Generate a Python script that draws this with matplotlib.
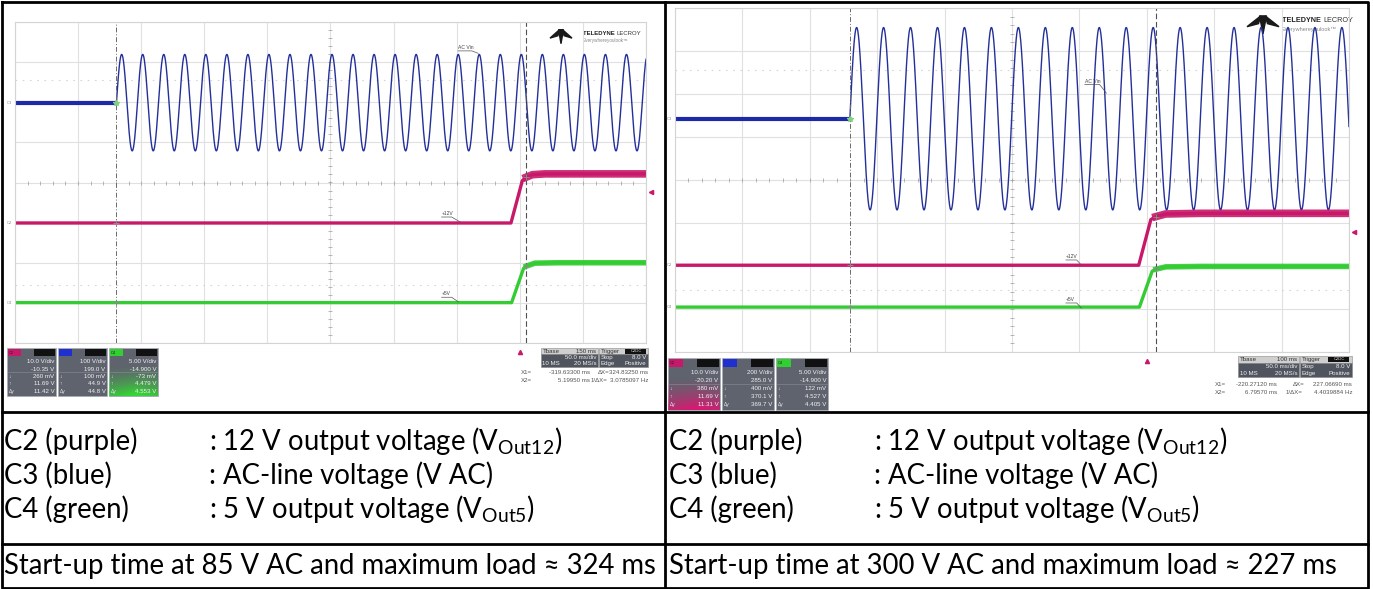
import numpy as np
import matplotlib.pyplot as plt
from matplotlib.patches import Rectangle, Polygon

plt.rcParams['font.family'] = ['Lato', 'DejaVu Sans']
NARROW = ['Liberation Sans Narrow', 'Liberation Sans', 'DejaVu Sans']

W, H = 1373, 589

# ---------------- table text ----------------
names = ['C2 (purple)', 'C3 (blue)', 'C4 (green)']
descs = [': 12 V output voltage (V$_\\mathregular{Out12}$)',
         ': AC-line voltage (V AC)',
         ': 5 V output voltage (V$_\\mathregular{Out5}$)']
startup = ['Start-up time at 85 V AC and maximum load \u2248 324 ms',
           'Start-up time at 300 V AC and maximum load \u2248 227 ms']

# ---------------- scope settings ----------------
ms_per_div = 50.0
tbase = [-150.0, -100.0]            # screen centre, ms
cursor_x1 = [-319.633, -220.2712]   # ms
cursor_x2 = [5.1995, 6.7957]
ac_rms = [85.0, 300.0]
ac_freq = [60.0, 50.0]
trig_level = 8.0                    # V on C2, at t = 0
c2_vdiv = [10.0, 10.0]
c2_offset = [-10.35, -20.20]
c3_vdiv = [100.0, 200.0]
c3_offset = [199.0, 285.0]
c4_vdiv = [5.0, 5.0]
c4_offset = [-14.9, -14.9]

# start-up ramps (ms, V)
left_c2_t = [-400.0, -7.0, 2.0, 5.2, 10.0, 20.0, 100.0]
left_c2_v = [0.26, 0.26, 10.8, 11.69, 12.3, 12.5, 12.5]
left_c4_t = [-400.0, -6.5, 3.0, 5.2, 12.0, 30.0, 100.0]
left_c4_v = [-0.07, -0.07, 4.2, 4.48, 4.85, 4.9, 4.9]
right_c2_t = [-350.0, -6.0, 3.0, 6.8, 14.0, 40.0, 150.0]
right_c2_v = [0.38, 0.38, 11.0, 11.69, 12.3, 12.45, 12.45]
right_c4_t = [-350.0, -5.5, 4.0, 6.8, 14.0, 40.0, 150.0]
right_c4_v = [0.12, 0.12, 4.3, 4.53, 4.8, 4.85, 4.85]

# channel info boxes
left_box_c2 = ['10.0 V/div', '-10.35 V', '260 mV', '11.69 V', '11.42 V']
left_box_c3 = ['100 V/div', '199.0 V', '100 mV', '44.9 V', '44.8 V']
left_box_c4 = ['5.00 V/div', '-14.900 V', '-73 mV', '4.479 V', '4.553 V']
right_box_c2 = ['10.0 V/div', '-20.20 V', '380 mV', '11.69 V', '11.31 V']
right_box_c3 = ['200 V/div', '285.0 V', '400 mV', '370.1 V', '369.7 V']
right_box_c4 = ['5.00 V/div', '-14.900 V', '122 mV', '4.527 V', '4.405 V']
tbase_text = ['150 ms', '100 ms']
left_cursor_text = ['-319.63300 ms', '324.83250 ms', '5.19950 ms', '3.0785097 Hz']
right_cursor_text = ['-220.27120 ms', '227.06690 ms', '6.79570 ms', '4.4039884 Hz']

PINK = '#c8186a'
BLUE = '#1b2aa8'
SINE = '#24309a'
GREEN = '#33cc33'

fig = plt.figure(figsize=(W / 100, H / 100), dpi=100)
bg = fig.add_axes([0, 0, 1, 1])
bg.axis('off')


def to_div(v, vdiv, off):
    return (np.asarray(v) + off) / vdiv


def scope(i, px, c2t, c2v, c4t, c4v, labels):
    x0, y0, x1, y1 = px
    ax = fig.add_axes([x0 / W, 1 - y1 / H, (x1 - x0) / W, (y1 - y0) / H])
    ax.patch.set_alpha(0)
    t0, t1 = tbase[i] - 5 * ms_per_div, tbase[i] + 5 * ms_per_div
    ax.set_xlim(t0, t1)
    ax.set_ylim(-4, 4)
    ax.set_xticks(np.arange(t0, t1 + 1, ms_per_div))
    ax.set_yticks(np.arange(-4, 5))
    ax.grid(True, color='#e0e0e0', lw=0.8)
    ax.tick_params(length=0, labelbottom=False, labelleft=False)
    for s in ax.spines.values():
        s.set_color('#d4d4d4')
        s.set_linewidth(0.8)
    # centre graticule ticks
    tt = np.arange(t0, t1, ms_per_div / 5)
    ax.plot(tt, np.zeros_like(tt), '|', ms=3, mew=0.5, color='#9c9c9c')
    vv = np.arange(-4, 4, 0.2)
    ax.plot(np.full_like(vv, tbase[i]), vv, '_', ms=3, mew=0.5, color='#9c9c9c')
    for yy in (2.55, -2.55):
        ax.axhline(yy, color='#d6d6d6', lw=0.8, ls=(0, (1.5, 5)))

    # C3 : AC line
    st = cursor_x1[i]
    ax.plot([t0, st], to_div([0, 0], c3_vdiv[i], c3_offset[i]), color=BLUE,
            lw=3.0, solid_capstyle='butt')
    t = np.linspace(st, t1, 6000)
    v = ac_rms[i] * np.sqrt(2) * np.sin(2 * np.pi * ac_freq[i] * (t - st) / 1000)
    ax.plot(t, to_div(v, c3_vdiv[i], c3_offset[i]), color=SINE, lw=1.0)

    # C2 / C4 outputs
    d2 = to_div(c2v, c2_vdiv[i], c2_offset[i])
    d4 = to_div(c4v, c4_vdiv[i], c4_offset[i])
    ax.plot(c2t, d2, color=PINK, lw=2.4)
    ax.plot(c2t[3:], d2[3:], color=PINK, lw=5.5, alpha=0.9)
    ax.plot(c4t, d4, color=GREEN, lw=2.4)
    ax.plot(c4t[3:], d4[3:], color=GREEN, lw=4.0, alpha=0.9)

    # cursors
    ax.axvline(cursor_x1[i], color='#6a6a6a', lw=0.7, ls=(0, (5, 2, 1, 2)))
    ax.axvline(cursor_x2[i], color='#505050', lw=0.8, ls=(0, (5, 2.5)))
    for tc in (cursor_x1[i], cursor_x2[i]):
        for tt_, dd in ((c2t, d2), (c4t, d4)):
            ax.plot(tc, np.interp(tc, tt_, dd), '+', ms=4, mew=0.7, color='#8a8a8a')
    ax.plot(cursor_x1[i], to_div(0, c3_vdiv[i], c3_offset[i]), '*', ms=4,
            color='#7fd07f')

    # trigger markers
    span = t1 - t0
    ax.plot(0, -4.22, '^', ms=3, color=PINK, clip_on=False)
    ax.plot(t1 + 0.008 * span, to_div(trig_level, c2_vdiv[i], c2_offset[i]),
            '<', ms=3, color=PINK, clip_on=False)

    # channel tags
    for tag, dv in (('C3', to_div(0, c3_vdiv[i], c3_offset[i])),
                    ('C2', d2[0]), ('C4', d4[0])):
        ax.text(t0 - 0.004 * span, dv, tag, ha='right', va='center', fontsize=3,
                color='#8c8c8c', family=NARROW, clip_on=False)

    # trace labels with leaders
    for txt, tx, ty, lx, ly in labels:
        ax.text(tx, ty, txt, fontsize=3.6, color='#444444', family=NARROW,
                ha='left', va='bottom')
        w = 0.022 * span if len(txt) > 4 else 0.016 * span
        ax.plot([tx, tx + w, lx], [ty - 0.02, ty - 0.02, ly], color='#555555', lw=0.5)
    return ax


def chan_box(x, y, w, h, tag, tagcol, vals, glow=None):
    bg.add_patch(Rectangle((x, y), w, h, facecolor='#5f636d', edgecolor='#a6abb5',
                           lw=0.5, zorder=2))
    if glow is not None:
        n = 40
        yy, xx = np.mgrid[0:1:n * 1j, 0:1:n * 1j]
        a = np.clip(yy ** 1.5 * (1.1 - 0.6 * np.abs(xx - 0.55)), 0, 1)
        img = np.zeros((n, n, 4))
        img[..., :3] = glow
        img[..., 3] = a
        bg.imshow(img, extent=[x, x + w, y + h, y + h * 0.35], origin='upper',
                  aspect='auto', zorder=2.5, interpolation='bilinear')
    hh = h * 0.17
    bg.add_patch(Rectangle((x + 1, y + 1), w * 0.27, hh - 1, facecolor=tagcol, zorder=3))
    bg.text(x + 2, y + hh / 2 + 0.5, tag, fontsize=2.8, color='#222222',
            va='center', family=NARROW, zorder=4)
    bg.add_patch(Rectangle((x + w * 0.55, y + 1), w * 0.43, hh - 1,
                           facecolor='#111111', zorder=3))
    syms = ['', '', '\u2193', '\u2191', '\u0394y']
    for k, (s, val) in enumerate(zip(syms, vals)):
        yy = y + hh + (h - hh) * (0.14 + k * 0.185)
        bg.text(x + w - 1.5, yy, val, fontsize=4.4, color='#f2f2f2', ha='right',
                va='center', family=NARROW, zorder=4)
        if s:
            bg.text(x + 1.5, yy, s, fontsize=3.6, color='#e8e8e8', ha='left',
                    va='center', family=NARROW, zorder=4)
    bg.plot([x + 1, x + w - 1], [y + hh + (h - hh) * 0.4] * 2, color='#8a8e98',
            lw=0.4, zorder=3)


def time_box(x, y, w1, w2, h, tb):
    r = h / 3
    bg.add_patch(Rectangle((x, y), w1, r, facecolor='#cfcfcf', edgecolor='#888', lw=0.4, zorder=2))
    bg.add_patch(Rectangle((x, y + r), w1, 2 * r, facecolor='#50545e', edgecolor='#888', lw=0.4, zorder=2))
    bg.add_patch(Rectangle((x + w1 + 1, y), w2, r, facecolor='#cfcfcf', edgecolor='#888', lw=0.4, zorder=2))
    bg.add_patch(Rectangle((x + w1 + 1, y + r), w2, 2 * r, facecolor='#50545e', edgecolor='#888', lw=0.4, zorder=2))
    bg.add_patch(Rectangle((x + w1 + w2 * 0.55, y + 1), w2 * 0.42, r - 1.5,
                           facecolor='#111', zorder=3))
    kw = dict(fontsize=4.4, va='center', family=NARROW, zorder=4)
    bg.text(x + 1.5, y + r / 2, 'Tbase', color='#333', **kw)
    bg.text(x + w1 - 1.5, y + r / 2, tb, color='#333', ha='right', **kw)
    bg.text(x + w1 - 1.5, y + 1.5 * r, '50.0 ms/div', color='#f0f0f0', ha='right', **kw)
    bg.text(x + 1.5, y + 2.5 * r, '10 MS', color='#f0f0f0', **kw)
    bg.text(x + w1 - 1.5, y + 2.5 * r, '20 MS/s', color='#f0f0f0', ha='right', **kw)
    xt = x + w1 + 1
    bg.text(xt + 1.5, y + r / 2, 'Trigger', color='#333', **kw)
    bg.text(xt + w2 * 0.76, y + r / 2, 'C2DC', color='#e0e0e0', ha='center',
            fontsize=3, va='center', family=NARROW, zorder=4)
    bg.text(xt + 1.5, y + 1.5 * r, 'Stop', color='#f0f0f0', **kw)
    bg.text(xt + w2 - 1.5, y + 1.5 * r, '8.0 V', color='#f0f0f0', ha='right', **kw)
    bg.text(xt + 1.5, y + 2.5 * r, 'Edge', color='#f0f0f0', **kw)
    bg.text(xt + w2 - 1.5, y + 2.5 * r, 'Positive', color='#f0f0f0', ha='right', **kw)


def cursor_text(xs, y, dy, vals):
    kw = dict(fontsize=4.4, color='#555555', va='center', family=NARROW)
    bg.text(xs[0], y, 'X1=', ha='left', **kw)
    bg.text(xs[1], y, vals[0], ha='right', **kw)
    bg.text(xs[2], y, '\u0394X=', ha='left', **kw)
    bg.text(xs[3], y, vals[1], ha='right', **kw)
    bg.text(xs[0], y + dy, 'X2=', ha='left', **kw)
    bg.text(xs[1], y + dy, vals[2], ha='right', **kw)
    bg.text(xs[2] - 7, y + dy, '1/\u0394X=', ha='left', **kw)
    bg.text(xs[3], y + dy, vals[3], ha='right', **kw)


def logo(cx, cy, w, h, tx, fs):
    # stylised winged "T"
    bg.add_patch(Polygon([(cx - 0.07 * w, cy - 0.45 * h), (cx - 0.5 * w, cy + 0.15 * h),
                          (cx - 0.14 * w, cy - 0.02 * h)], color='#1a1a1a', zorder=3))
    bg.add_patch(Polygon([(cx + 0.07 * w, cy - 0.45 * h), (cx + 0.5 * w, cy + 0.15 * h),
                          (cx + 0.14 * w, cy - 0.02 * h)], color='#1a1a1a', zorder=3))
    bg.add_patch(Polygon([(cx - 0.11 * w, cy - 0.45 * h), (cx + 0.11 * w, cy - 0.45 * h),
                          (cx, cy + 0.55 * h)], color='#1a1a1a', zorder=3))
    t1 = bg.text(tx, cy - 0.2 * h, 'TELEDYNE ', fontsize=fs, weight='bold',
                 color='#222', va='center', family=NARROW)
    bg.annotate('LECROY', xycoords=t1, xy=(1, 0.5), va='center', fontsize=fs,
                color='#333', family=NARROW)
    bg.text(tx, cy + 0.3 * h, 'Everywhereyoulook\u2122', fontsize=fs * 0.78,
            color='#888', va='center', family=NARROW)


# ---------------- left screenshot ----------------
scope(0, (15, 22, 646, 343), left_c2_t, left_c2_v, left_c4_t, left_c4_v,
      [('AC Vin', -49.0, 3.3, -33.0, 3.22),
       ('+12V', -62.0, -0.84, -47.0, -0.99),
       ('+5V', -62.0, -2.84, -48.5, -2.98)])
chan_box(7, 348, 49, 48, 'C2', PINK, left_box_c2)
chan_box(58, 348, 49, 48, '', '#1f2fd0', left_box_c3)
chan_box(109, 348, 49, 48, 'C4', '#30d030', left_box_c4, glow=(0.2, 0.85, 0.2))
time_box(541, 348, 57, 49, 19, tbase_text[0])
cursor_text((521, 590, 598, 648), 372.5, 7.5, left_cursor_text)
logo(561, 36, 22, 14, 583, 4.3)

# ---------------- right screenshot ----------------
scope(1, (675, 8, 1349, 352), right_c2_t, right_c2_v, right_c4_t, right_c4_v,
      [('AC Vin', -46.0, 2.24, -30.0, 2.02),
       ('+12V', -60.0, -1.84, -48.5, -1.98),
       ('+5V', -60.0, -2.84, -48.5, -2.98)])
chan_box(668, 358, 52, 52, 'C2', PINK, right_box_c2, glow=(0.85, 0.1, 0.45))
chan_box(722, 358, 52, 52, '', '#1f2fd0', right_box_c3)
chan_box(776, 358, 52, 52, 'C4', '#30d030', right_box_c4)
time_box(1238, 356, 61, 52, 20.5, tbase_text[1])
cursor_text((1215, 1277, 1293, 1352), 384.5, 8, right_cursor_text)
logo(1263, 24, 32, 18, 1282, 5.2)

# ---------------- table ----------------
lk = dict(color='black', lw=2, solid_capstyle='projecting', zorder=5)
bg.plot([1.5, 1368, 1368, 1.5, 1.5], [1.5, 1.5, 587.5, 587.5, 1.5], **lk)
bg.plot([665, 665], [1.5, 587.5], **lk)
bg.plot([1.5, 1368], [412, 412], **lk)
bg.plot([1.5, 1368], [544, 544], **lk)

FS = 19.8
for col, x in enumerate((4, 669)):
    for k in range(3):
        yy = 441 + k * 34
        bg.text(x, yy, names[k], fontsize=FS, va='center', ha='left', color='black')
        bg.text(x + 205, yy, descs[k], fontsize=FS, va='center', ha='left', color='black')
    bg.text(x, 566, startup[col], fontsize=FS, va='center', ha='left', color='black')

bg.set_xlim(0, W)
bg.set_ylim(H, 0)
fig.savefig('out.png', dpi=100)
